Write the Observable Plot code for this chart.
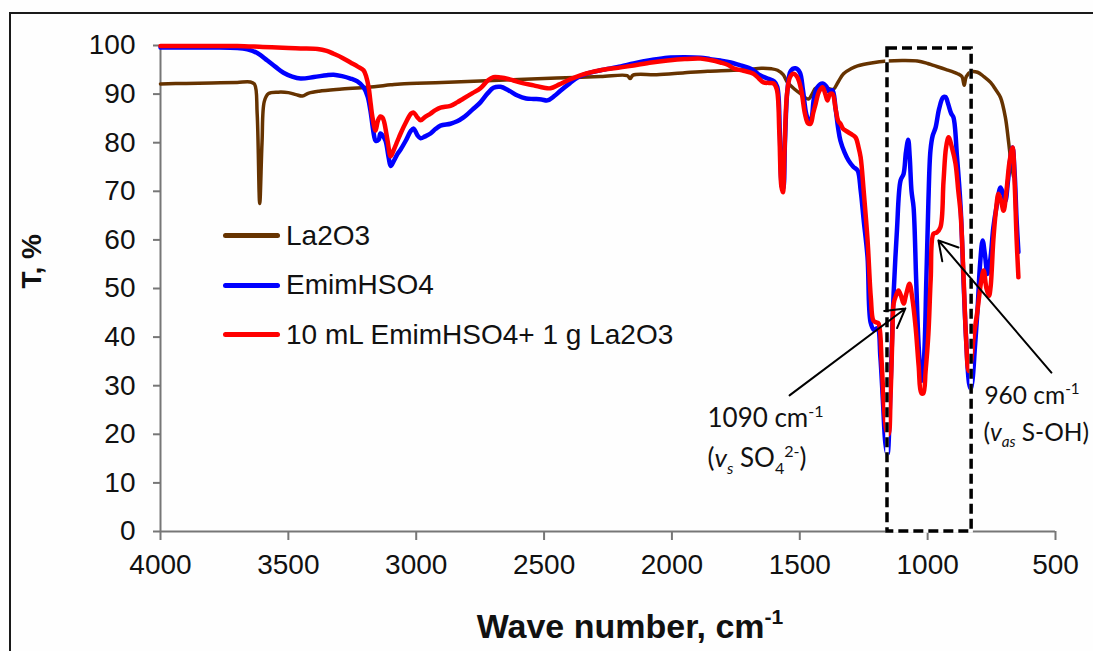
<!DOCTYPE html>
<html>
<head>
<meta charset="utf-8">
<script src="https://cdn.jsdelivr.net/npm/d3@7"></script>
<script src="https://cdn.jsdelivr.net/npm/@observablehq/plot@0.6"></script>
<style>
  html, body { margin: 0; padding: 0; background: #fff; }
  #wrap { position: relative; width: 1093px; height: 651px; overflow: hidden; background: #fefefe; }
  #frame { position: absolute; left: 9px; top: 12px; width: 1300px; height: 900px; border: 2px solid #1a1a1a; }
  #chart { position: absolute; left: 0; top: 0; }
  #legend { position: absolute; left: 223px; top: 211px; font-family: "Liberation Sans", Arial, sans-serif; font-size: 28px; color: #111; }
  .item { display: flex; align-items: center; height: 49.5px; }
  .swatch { width: 57px; height: 5px; border-radius: 3px; margin-right: 6px; }
</style>
</head>
<body>
<div id="wrap">
  <div id="frame"></div>
  <div id="chart"></div>
  <div id="legend"></div>
</div>
<script>
// FT-IR spectra: transmittance (%) against wave number (cm-1)
const xTicks = [4000, 3500, 3000, 2500, 2000, 1500, 1000, 500];
const yTicks = [0, 10, 20, 30, 40, 50, 60, 70, 80, 90, 100];

const seriesNames = ["La2O3", "EmimHSO4", "10 mL EmimHSO4+ 1 g La2O3"];
const seriesColors = ["#663300", "#0000ff", "#ff0000"];

// [wave number, T %]
const la2o3 = [
  [4000, 92.1], [3900, 92.2], [3800, 92.3], [3700, 92.4], [3650, 92.5], [3632, 92.0], [3622, 86], [3612, 67.5],
  [3603, 80], [3594, 88.5], [3578, 90.1], [3540, 90.4], [3500, 90.3], [3470, 89.9], [3445, 89.6], [3420, 90.2],
  [3380, 90.6], [3300, 91.0], [3190, 91.4], [3100, 91.9], [3061, 92.1], [2900, 92.4], [2750, 92.7], [2600, 93.0],
  [2450, 93.3], [2279, 93.6], [2175, 93.8], [2163, 93.2], [2152, 93.9], [2060, 94.0], [1950, 94.4], [1860, 94.7],
  [1759, 94.9], [1700, 95.1], [1650, 95.3], [1610, 95.2], [1587, 94.9], [1565, 94.0], [1548, 92.4], [1520, 91.0],
  [1495, 90.0], [1466, 89.0], [1450, 90.2], [1438, 91.2], [1410, 91.4], [1385, 91.1], [1368, 91.0], [1350, 92.5],
  [1329, 94.2], [1300, 95.2], [1274, 95.8], [1220, 96.4], [1157, 96.8], [1100, 96.9], [1040, 96.8], [1000, 96.3],
  [977, 95.9], [930, 95.1], [883, 94.2], [866, 93.6], [857, 91.8], [849, 93.6], [830, 94.6], [805, 94.5],
  [780, 93.6], [754, 92.4], [735, 91.0], [715, 89.3], [696, 85.2], [684, 80.4], [674, 76], [664, 73]
];

const emimHSO4 = [
  [4000, 99.6], [3800, 99.6], [3700, 99.5], [3660, 99.2], [3620, 98.4], [3582, 96.9], [3550, 95.6], [3519, 94.4],
  [3485, 93.6], [3452, 93.2], [3400, 93.5], [3350, 93.9], [3323, 94.0], [3290, 93.7], [3257, 93.2], [3230, 92.6],
  [3206, 91.4], [3190, 89.5], [3179, 86.6], [3165, 81.5], [3159, 80.4], [3147, 80.6], [3140, 81.9], [3132, 81.5],
  [3120, 80.4], [3108, 77], [3100, 75.2], [3088, 76.2], [3073, 77.7], [3061, 78.6], [3040, 80.5], [3020, 82.5],
  [3010, 82.9], [2995, 81.5], [2983, 80.9], [2965, 81.3], [2944, 81.9], [2925, 82.8], [2905, 83.5], [2866, 83.9],
  [2840, 84.4], [2815, 85.2], [2780, 86.8], [2749, 88.3], [2720, 90.2], [2698, 91.3], [2670, 91.5], [2640, 90.8],
  [2604, 89.7], [2570, 89.1], [2541, 89.0], [2510, 88.9], [2487, 88.7], [2460, 89.6], [2436, 90.7], [2400, 92.2],
  [2369, 93.4], [2320, 94.4], [2279, 94.9], [2200, 95.7], [2150, 96.3], [2080, 97.0], [2017, 97.5], [1950, 97.6],
  [1888, 97.5], [1850, 97.2], [1810, 96.9], [1770, 96.5], [1732, 95.9], [1700, 95.4], [1681, 94.9], [1660, 94.0],
  [1626, 93.2], [1600, 92.6], [1588, 91.5], [1578, 82], [1570, 71], [1565, 70.5], [1558, 80], [1548, 91],
  [1535, 94.8], [1517, 95.3], [1500, 94.5], [1488, 91], [1475, 86], [1465, 84.5], [1455, 85], [1445, 89],
  [1430, 91.5], [1411, 92.2], [1395, 91.5], [1385, 90.5], [1372, 90.8], [1360, 87], [1350, 83], [1341, 80.4],
  [1325, 78], [1309, 76.3], [1290, 75], [1274, 74.3], [1262, 70.2], [1250, 64], [1235, 56.4], [1223, 43],
  [1210, 41.5], [1196, 41.8], [1185, 36], [1175, 27], [1165, 18], [1157, 16], [1148, 25], [1138, 42],
  [1133, 49], [1120, 62], [1106, 72.2], [1094, 73.6], [1085, 78], [1076, 80.6], [1070, 77], [1063, 70],
  [1055, 66.7], [1045, 52], [1035, 38], [1025, 31], [1015, 35], [1005, 52], [997, 68], [989, 78.4],
  [980, 81.5], [969, 83.1], [955, 87], [940, 89.3], [930, 89.4], [920, 88], [908, 86], [899, 85.2],
  [885, 77], [871, 66.7], [860, 52], [850, 40], [838, 30.5], [832, 29.4], [825, 31], [815, 38],
  [805, 45.5], [795, 55], [785, 59.9], [776, 57], [766, 53], [755, 56], [743, 62.6], [730, 67],
  [715, 70.8], [705, 69.5], [696, 68], [686, 72], [676, 77], [668, 79], [660, 74], [652, 64], [645, 57.5]
];

const mixture = [
  [4000, 99.9], [3800, 99.9], [3700, 99.9], [3600, 99.7], [3500, 99.5], [3452, 99.4], [3386, 99.3], [3350, 98.9],
  [3323, 98.3], [3290, 97.5], [3257, 96.5], [3230, 95.7], [3206, 94.9], [3195, 93.5], [3186, 91.4], [3178, 88],
  [3171, 85.2], [3159, 82.5], [3150, 84.5], [3140, 85.4], [3132, 85.2], [3125, 84.2], [3112, 80.4], [3100, 77.2],
  [3088, 78.5], [3073, 80.4], [3061, 81.9], [3040, 84.2], [3020, 86], [3010, 86.2], [2995, 85.2], [2983, 84.6],
  [2965, 85.3], [2944, 86], [2925, 86.7], [2905, 87.2], [2866, 87.6], [2840, 88.3], [2815, 89.1], [2780, 90.2],
  [2749, 91.2], [2720, 92.8], [2698, 93.5], [2670, 93.4], [2640, 93.1], [2620, 92.8], [2580, 92.2], [2541, 91.8],
  [2500, 91.3], [2475, 91.2], [2440, 92.0], [2408, 92.8], [2350, 94.0], [2279, 94.9], [2200, 95.5], [2150, 95.9],
  [2080, 96.5], [2017, 96.9], [1950, 97.2], [1888, 97.3], [1850, 97.0], [1810, 96.5], [1780, 96.0], [1759, 95.3],
  [1720, 94.8], [1681, 94.2], [1660, 93.2], [1642, 92.4], [1620, 92.3], [1603, 92.2], [1590, 91], [1580, 82],
  [1572, 71], [1566, 69.8], [1560, 78], [1550, 90], [1538, 93.5], [1525, 94.2], [1510, 93.5], [1495, 91],
  [1480, 86], [1468, 84], [1458, 83.9], [1448, 86], [1438, 88], [1425, 90.5], [1411, 91.4], [1400, 90],
  [1392, 88.7], [1382, 90], [1372, 90], [1360, 87], [1350, 84.5], [1341, 83.9], [1330, 82.8], [1321, 82.5],
  [1300, 81.8], [1282, 81.1], [1270, 79], [1262, 77], [1250, 70], [1235, 60], [1222, 48], [1212, 43.4],
  [1200, 43], [1192, 42.8], [1180, 35], [1170, 25], [1160, 20.5], [1153, 20], [1145, 28], [1138, 40],
  [1133, 46.9], [1124, 48.5], [1114, 49.6], [1104, 48.5], [1094, 46.9], [1083, 49], [1071, 51], [1060, 48],
  [1047, 42], [1035, 34], [1025, 28.5], [1017, 28.4], [1008, 33], [997, 40.7], [988, 52], [977, 61.3],
  [965, 61.5], [950, 62.6], [938, 72], [928, 79], [918, 81.1], [905, 79], [891, 75.7], [880, 70],
  [871, 65.4], [860, 53], [850, 40], [840, 33], [830, 35], [820, 40], [805, 45.5], [792, 51],
  [781, 53.7], [770, 50], [760, 48.5], [754, 50.2], [743, 60], [733, 66], [723, 69.5], [713, 68],
  [703, 66], [692, 70], [680, 76], [668, 79], [660, 72], [652, 60], [645, 52.3]
];

// Region of the S-O bands, outlined with a dashed box
const bandBox = [{from: 1157, to: 828, low: 0, high: 99.4}];

// Band assignments: ^{} superscript, _{} subscript, *{} italic, ~{} italic subscript
const noteWave = [1861, 1861, 778, 782];
const noteT = [21.4, 13.2, 26.3, 18.7];
const noteText = ["1090 cm^{-1}", "(*{v}~{s} SO_{4}^{2-})", "960 cm^{-1}", "(*{v}~{as} S-OH)"];

// Pointer arrows: tail (wave, T) -> head (wave, T)
const arrowFrom = [[1540, 28.0], [516, 32.7]];
const arrowTo = [[1087, 45.9], [958, 59.9]];

const notes = noteText.map((label, i) => ({wave: noteWave[i], t: noteT[i], label}));
const arrows = arrowFrom.map((a, i) => ({x1: a[0], y1: a[1], x2: arrowTo[i][0], y2: arrowTo[i][1]}));
const spectra = [la2o3, emimHSO4, mixture];

const font = "'Liberation Sans', Arial, sans-serif";
const noteFont = "Lato, 'Open Sans', sans-serif";
const axisGray = "#767676";

const chart = Plot.plot({
  width: 1093,
  height: 651,
  marginLeft: 160,
  marginRight: 38,
  marginTop: 45,
  marginBottom: 120,
  style: {fontFamily: font, fontSize: "28px", color: "#111", background: "transparent", overflow: "visible"},
  x: {domain: [4000, 500]},
  y: {domain: [0, 100]},
  marks: [
    Plot.axisX({ticks: xTicks, tickFormat: d3.format("d"), tickSize: 9, tickPadding: 14, label: null, stroke: axisGray, strokeWidth: 2, fill: "#111"}),
    Plot.axisY({ticks: yTicks, tickFormat: d3.format("d"), tickSize: 7, tickPadding: 18, label: null, stroke: axisGray, strokeWidth: 2, fill: "#111"}),
    Plot.ruleX([4000], {stroke: axisGray, strokeWidth: 2}),
    Plot.ruleY([0], {stroke: axisGray, strokeWidth: 2}),
    ...spectra.map((s, i) => Plot.line(s, {
      x: d => d[0], y: d => d[1],
      stroke: seriesColors[i],
      strokeWidth: i === 0 ? 3.5 : 4.5,
      curve: "catmull-rom",
      strokeLinejoin: "round"
    })),
    Plot.rect(bandBox, {x1: "from", x2: "to", y1: "low", y2: "high", fill: "none", stroke: "#fff", strokeWidth: 3.5}),
    Plot.rect(bandBox, {x1: "from", x2: "to", y1: "low", y2: "high", fill: "none", stroke: "#000", strokeWidth: 3.5, strokeDasharray: "10,5"}),
    Plot.arrow(arrows, {x1: "x1", y1: "y1", x2: "x2", y2: "y2", stroke: "#000", strokeWidth: 2, headLength: 16}),
    // the right-hand pair sits against the edge, so it is set a touch smaller
    Plot.text(notes.slice(0, 2), {x: "wave", y: "t", text: "label", textAnchor: "start", lineAnchor: "bottom",
      fontFamily: noteFont, fontSize: 26, fill: "#111"}),
    Plot.text(notes.slice(2), {x: "wave", y: "t", text: "label", textAnchor: "start", lineAnchor: "bottom",
      fontFamily: noteFont, fontSize: 24.5, fill: "#111"}),
    Plot.text(["T, %"], {frameAnchor: "left", dx: -128, rotate: -90, fontWeight: "bold", fontSize: 28, fill: "#111"}),
    Plot.text(["Wave number, cm^{-1}"], {frameAnchor: "bottom", dx: 22, dy: 106, lineAnchor: "bottom", fontWeight: "bold", fontSize: 34, fill: "#111"})
  ]
});

// Expand the little markup in labels into tspans (super/subscripts, italics)
const SVGNS = "http://www.w3.org/2000/svg";
function richText(el) {
  const src = el.textContent;
  const size = parseFloat(el.getAttribute("font-size") || getComputedStyle(el).fontSize) || 24;
  const re = /([\^_*~])\{([^}]*)\}/g;
  const parts = [];
  let last = 0, m;
  while ((m = re.exec(src))) {
    if (m.index > last) parts.push({t: src.slice(last, m.index), k: ""});
    parts.push({t: m[2], k: m[1]});
    last = re.lastIndex;
  }
  if (last < src.length) parts.push({t: src.slice(last), k: ""});
  el.textContent = "";
  let shift = 0;
  for (const p of parts) {
    const ts = document.createElementNS(SVGNS, "tspan");
    const target = p.k === "^" ? -0.4 * size : (p.k === "_" || p.k === "~") ? 0.25 * size : 0;
    if (target !== shift) ts.setAttribute("dy", target - shift);
    shift = target;
    if (p.k === "^" || p.k === "_" || p.k === "~") ts.setAttribute("font-size", size * 0.62);
    if (p.k === "*" || p.k === "~") ts.setAttribute("font-style", "italic");
    ts.textContent = p.t;
    el.appendChild(ts);
  }
}
document.getElementById("chart").appendChild(chart);
d3.select(chart).selectAll("text").each(function () {
  if (/[\^_*~]\{/.test(this.textContent)) richText(this);
});

// Legend
const legend = d3.select("#legend");
seriesNames.forEach((name, i) => {
  const item = legend.append("div").attr("class", "item");
  item.append("div").attr("class", "swatch").style("background", seriesColors[i]);
  item.append("span").text(name);
});
</script>
</body>
</html>
